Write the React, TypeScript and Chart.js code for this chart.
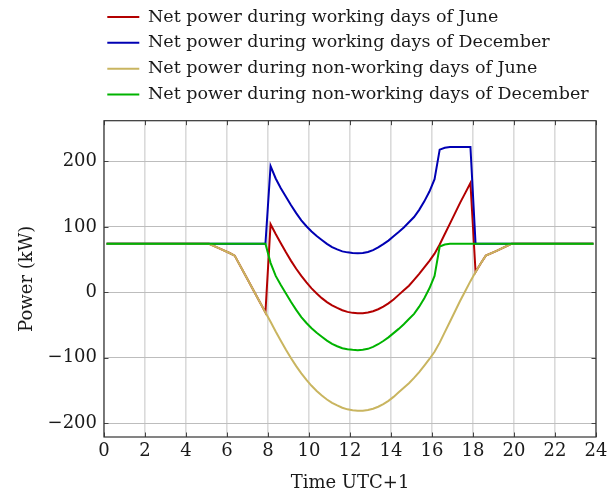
import { useEffect, useRef } from 'react';
import { Chart, registerables } from 'chart.js';

Chart.register(...registerables);

// Time of day (hours, UTC+1), 15-minute samples where the curves vary
const hours = [
  0.125, 5.125, 5.625, 6.125, 6.375, 6.875, 7.375, 7.875,
  8.125, 8.375, 8.625, 8.875, 9.125, 9.375, 9.625, 9.875, 10.125, 10.375,
  10.625, 10.875, 11.125, 11.375, 11.625, 11.875, 12.125, 12.375, 12.625, 12.875,
  13.125, 13.375, 13.625, 13.875, 14.125, 14.375, 14.625, 14.875, 15.125, 15.375,
  15.625, 15.875, 16.125, 16.375, 16.625, 16.875, 17.125, 17.375, 17.625, 17.875,
  18.125, 18.375, 18.625, 19.125, 19.875, 23.875,
];

const workJune = [
  74, 74, 67, 60, 56, 27, -2, -31,
  104, 89, 75, 61, 48, 36, 25, 15, 6, -2,
  -9, -15, -20, -24, -27.5, -30, -31.5, -32, -32, -31,
  -29, -26, -22, -17, -11, -4, 3, 10, 19, 28,
  38, 48, 59, 73, 89, 105, 121, 137, 152, 167,
  31, 44, 56, 63, 74, 74,
];

const workDecember = [
  74, 74, 74, 74, 74, 74, 74, 74,
  193, 174, 159, 146, 133, 121, 110, 101, 93, 86,
  80, 74, 69, 65.5, 62.5, 61, 60, 59.5, 60, 61.5,
  64.5, 68.5, 73.5, 79, 85.5, 92, 99, 107, 115, 126,
  139, 154, 173, 218, 221, 222, 222, 222, 222, 222,
  74, 74, 74, 74, 74, 74,
];

const nonWorkJune = [
  74, 74, 67, 60, 56, 27, -2, -31,
  -45, -60, -74, -88, -101, -113, -124, -134, -143, -151,
  -158, -164, -169, -173, -176.5, -179, -180.5, -181, -181, -180,
  -178, -175, -171, -166, -160, -153, -146, -139, -131, -122,
  -112, -102, -91, -77, -61, -45, -29, -13, 2, 17,
  31, 44, 56, 63, 74, 74,
];

const nonWorkDecember = [
  74, 74, 74, 74, 74, 74, 74, 74,
  45, 25, 11, -2, -15, -27, -38, -47, -55, -62,
  -68, -74, -79, -82.5, -85.5, -87, -88, -88.5, -88, -86.5,
  -83.5, -79.5, -74.5, -69, -62.5, -56, -49, -41, -33, -22,
  -9, 6, 25, 70, 73, 74, 74, 74, 74, 74,
  74, 74, 74, 74, 74, 74,
];

const seriesLabels = [
  'Net power during working days of June',
  'Net power during working days of December',
  'Net power during non-working days of June',
  'Net power during non-working days of December',
];
const seriesColors = ['#b30000', '#0000b3', '#c9b560', '#00b300'];

const xTitle = 'Time UTC+1';
const yTitle = 'Power (kW)';

const FONT = "'DejaVu Serif'";
const TEXT = '#1a1a1a';

const legendPlacer = {
  id: 'legendPlacer',
  beforeDraw(chart: any) {
    const l = chart.legend;
    if (l) {
      l.left = 99;
      l.top = 0;
      l.right = 615;
    }
  },
};

const frame = {
  id: 'frame',
  afterDatasetsDraw(chart: any) {
    const { ctx, chartArea: a, scales } = chart;
    ctx.save();
    ctx.strokeStyle = '#444';
    ctx.lineWidth = 1;
    ctx.beginPath();
    const len = 4.5;
    scales.x.ticks.forEach((t: any) => {
      const p = Math.round(scales.x.getPixelForValue(t.value)) + 0.5;
      ctx.moveTo(p, a.bottom);
      ctx.lineTo(p, a.bottom - len);
      ctx.moveTo(p, a.top);
      ctx.lineTo(p, a.top + len);
    });
    scales.y.ticks.forEach((t: any) => {
      const p = Math.round(scales.y.getPixelForValue(t.value)) + 0.5;
      ctx.moveTo(a.left, p);
      ctx.lineTo(a.left + len, p);
      ctx.moveTo(a.right, p);
      ctx.lineTo(a.right - len, p);
    });
    ctx.stroke();
    ctx.strokeStyle = '#333';
    ctx.lineWidth = 1.2;
    ctx.strokeRect(a.left, a.top, a.right - a.left, a.bottom - a.top);
    ctx.restore();
  },
};

export default function App() {
  const ref = useRef<HTMLCanvasElement>(null);

  useEffect(() => {
    const canvas = ref.current;
    if (!canvas) return;
    const seriesValues = [workJune, workDecember, nonWorkJune, nonWorkDecember];
    const orders = [4, 3, 2, 1];
    const datasets = seriesValues.map((vals, k) => ({
      label: seriesLabels[k],
      data: hours.map((h, i) => ({ x: h, y: vals[i] })),
      borderColor: seriesColors[k],
      backgroundColor: seriesColors[k],
      borderWidth: 2,
      pointRadius: 0,
      pointHoverRadius: 0,
      tension: 0,
      fill: false,
      order: orders[k],
    }));

    const chart = new Chart(canvas, {
      type: 'line',
      data: { datasets },
      options: {
        animation: false,
        responsive: false,
        devicePixelRatio: 1,
        layout: { padding: { top: 7.5, right: 19, bottom: 0, left: 0 } },
        plugins: {
          tooltip: { enabled: false },
          legend: {
            position: 'top',
            align: 'start',
            labels: {
              usePointStyle: true,
              pointStyle: 'line',
              pointStyleWidth: 32,
              padding: 8.3,
              color: TEXT,
              font: { family: FONT, size: 17.5 },
              generateLabels: (c: any) =>
                c.data.datasets.map((ds: any, i: number) => ({
                  text: ds.label,
                  strokeStyle: ds.borderColor,
                  fillStyle: ds.borderColor,
                  lineWidth: 2,
                  pointStyle: 'line',
                  hidden: false,
                  datasetIndex: i,
                  fontColor: TEXT,
                })),
            },
          },
        },
        scales: {
          x: {
            type: 'linear',
            min: 0,
            max: 24,
            afterFit: (s: any) => {
              s.height = 57;
            },
            ticks: {
              stepSize: 2,
              padding: 4,
              color: TEXT,
              font: { family: FONT, size: 18 },
              includeBounds: false,
              autoSkip: false,
              maxRotation: 0,
            },
            grid: { color: '#dadada', lineWidth: 1.6, drawTicks: false },
            border: { display: false },
            title: {
              display: true,
              text: xTitle,
              color: TEXT,
              font: { family: FONT, size: 18 },
              padding: { top: 4, bottom: 0 },
            },
          },
          y: {
            type: 'linear',
            min: -221.3,
            max: 262.3,
            afterFit: (s: any) => {
              s.width = 104;
            },
            ticks: {
              stepSize: 100,
              padding: 7,
              color: TEXT,
              font: { family: FONT, size: 18 },
              includeBounds: false,
              callback: (v: any) => (Number(v) < 0 ? '\u2212' + Math.abs(Number(v)) : String(v)),
            },
            grid: { color: '#bdbdbd', lineWidth: 1, drawTicks: false },
            border: { display: false },
            title: {
              display: true,
              text: yTitle,
              color: TEXT,
              font: { family: FONT, size: 18 },
              padding: { top: 17, bottom: 0 },
            },
          },
        },
      } as any,
      plugins: [legendPlacer, frame],
    });

    return () => chart.destroy();
  }, []);

  return (
    <canvas
      ref={ref}
      width={615}
      height={494}
      style={{ position: 'fixed', left: 0, top: 0, display: 'block' }}
    />
  );
}
